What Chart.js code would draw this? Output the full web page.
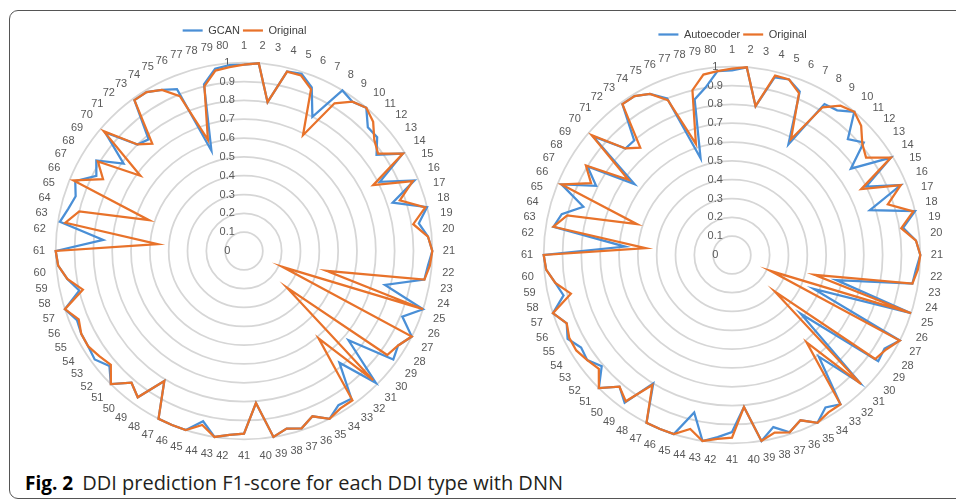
<!DOCTYPE html>
<html>
<head>
<meta charset="utf-8">
<script src="https://cdn.jsdelivr.net/npm/chart.js@4.4.0/dist/chart.umd.min.js"></script>
<style>
html, body { margin: 0; padding: 0; background: #fff; }
body { width: 956px; height: 502px; position: relative; overflow: hidden; }
#frame { position: absolute; left: 9px; top: 10px; width: 980px; height: 487px; border: 1.5px solid #555; border-radius: 9px; }
.box { position: absolute; }
#left { left: 29px; top: 22px; width: 431px; height: 442px; }
#right { left: 517px; top: 26px; width: 431px; height: 442px; }
#caption { position: absolute; left: 25px; top: 469px; font-family: "Open Sans", sans-serif; font-size: 20px; color: #231f20; white-space: nowrap; }
#caption b { font-size: 19px; font-weight: 700; color: #000; margin-right: 9px; }
</style>
</head>
<body>
<div id="frame"></div>
<div class="box" id="left"><canvas id="gcanChart"></canvas></div>
<div class="box" id="right"><canvas id="aeChart"></canvas></div>
<div id="caption"><b>Fig. 2</b>DDI prediction F1-score for each DDI type with DNN</div>
<script>
// DDI types 1..80
const ddiTypes = Array.from({ length: 80 }, (_, i) => String(i + 1));

const tickValues = [0, 0.1, 0.2, 0.3, 0.4, 0.5, 0.6, 0.7, 0.8, 0.9, 1];
const tickLabels = ["0", "0.1", "0.2", "0.3", "0.4", "0.5", "0.6", "0.7", "0.8", "0.9", "1"];

// F1 score, original DNN (same series on both charts)
const originalScores = [
    0.99, 1.0, 0.80, 0.98, 0.98, 0.93, 0.69, 0.92, 0.98, 1.0,
    0.97, 0.91, 0.88, 0.99, 0.77, 0.97, 0.87, 0.99, 0.91, 0.98,
    1.0, 0.99, 0.97, 0.45, 1.0, 0.22, 1.0, 0.96, 0.94, 0.30,
    0.97, 0.61, 0.98, 0.98, 1.0, 0.95, 0.99, 0.97, 1.0, 0.81,
    0.97, 0.98, 1.0, 0.95, 1.0, 1.0, 1.0, 0.81, 0.96, 0.92,
    1.0, 0.93, 0.95, 0.97, 0.97, 0.95, 1.0, 0.88, 0.95, 0.99,
    1.0, 0.46, 0.96, 0.90, 0.53, 0.98, 0.84, 0.91, 0.68, 0.98,
    0.80, 0.75, 0.99, 0.99, 0.96, 0.89, 0.62, 0.90, 0.97, 0.98
];

const gcanScores = [
    0.99, 1.0, 0.80, 0.98, 0.99, 0.94, 0.80, 1.0, 0.98, 1.0,
    0.93, 0.93, 0.87, 0.99, 0.81, 0.98, 0.83, 1.0, 0.94, 0.98,
    1.0, 0.98, 0.97, 0.77, 1.0, 0.91, 1.0, 0.96, 0.98, 0.73,
    0.99, 0.78, 0.97, 0.96, 1.0, 0.95, 0.99, 0.97, 1.0, 0.81,
    0.97, 0.98, 1.0, 0.93, 1.0, 1.0, 1.0, 0.81, 0.96, 0.92,
    1.0, 0.94, 0.98, 0.97, 0.97, 0.96, 1.0, 0.90, 0.95, 0.99,
    1.0, 0.75, 0.99, 0.96, 0.94, 0.97, 0.88, 0.92, 0.79, 0.97,
    0.80, 0.78, 0.99, 0.99, 0.96, 0.93, 0.56, 0.91, 0.98, 0.99
];

const autoencoderScores = [
    0.98, 1.0, 0.80, 0.97, 0.98, 0.94, 0.66, 0.94, 0.95, 1.0,
    0.87, 0.92, 0.78, 0.99, 0.80, 0.97, 0.77, 1.0, 0.92, 0.98,
    1.0, 0.98, 0.97, 0.57, 1.0, 0.47, 1.0, 0.95, 0.96, 0.48,
    0.96, 0.71, 0.98, 0.95, 1.0, 0.95, 0.99, 0.94, 1.0, 0.81,
    0.94, 0.97, 1.0, 0.86, 1.0, 1.0, 1.0, 0.80, 0.97, 0.92,
    1.0, 0.91, 0.95, 0.94, 0.98, 0.95, 1.0, 0.92, 0.95, 0.99,
    1.0, 0.57, 0.96, 0.93, 0.83, 0.98, 0.81, 0.90, 0.64, 0.97,
    0.80, 0.80, 0.99, 0.99, 0.96, 0.90, 0.54, 0.85, 0.90, 0.98
];

const blue = "#4a8fd6";
const orange = "#e8722a";
const textGrey = "#595959";

function makeDataset(label, data, color, order) {
    return {
        label: label,
        data: data,
        borderColor: color,
        backgroundColor: color,
        pointBorderColor: color,
        pointBackgroundColor: color,
        borderWidth: 2.25,
        pointBorderWidth: 2.25,
        pointRadius: 0,
        pointHoverRadius: 0,
        fill: false,
        tension: 0,
        order: order
    };
}

function makeRadar(canvasId, modelName, modelScores) {
    return new Chart(document.getElementById(canvasId), {
        type: "radar",
        data: {
            labels: ddiTypes,
            datasets: [
                makeDataset(modelName, modelScores, blue, 1),
                makeDataset("Original", originalScores, orange, 0)
            ]
        },
        options: {
            responsive: true,
            maintainAspectRatio: false,
            animation: false,
            layout: { padding: 0 },
            plugins: {
                tooltip: { enabled: false },
                legend: {
                    position: "top",
                    maxHeight: 17,
                    labels: {
                        usePointStyle: true,
                        pointStyle: "line",
                        pointStyleWidth: 20,
                        boxHeight: 11,
                        padding: 3,
                        color: "#404040",
                        font: { family: "'Liberation Sans', Arial, sans-serif", size: 11 },
                        sort: (a, b) => a.datasetIndex - b.datasetIndex
                    }
                }
            },
            scales: {
                r: {
                    min: 0,
                    max: 1,
                    afterBuildTicks: (scale) => {
                        // dummy first tick so that the "0" label is drawn too
                        scale.ticks = [{ value: 0 }].concat(tickValues.map(v => ({ value: v })));
                    },
                    angleLines: { display: false },
                    grid: { circular: true, color: "#d6d6d6", lineWidth: 1.75 },
                    ticks: {
                        showLabelBackdrop: false,
                        color: textGrey,
                        font: { family: "'Liberation Sans', Arial, sans-serif", size: 11 },
                        callback: (value, index) => index === 0 ? "" : tickLabels[index - 1] + "           "
                    },
                    pointLabels: {
                        color: textGrey,
                        padding: 3,
                        font: { family: "'Liberation Sans', Arial, sans-serif", size: 11 }
                    }
                }
            }
        }
    });
}

makeRadar("gcanChart", "GCAN", gcanScores);
makeRadar("aeChart", "Autoecoder", autoencoderScores);
</script>
</body>
</html>
